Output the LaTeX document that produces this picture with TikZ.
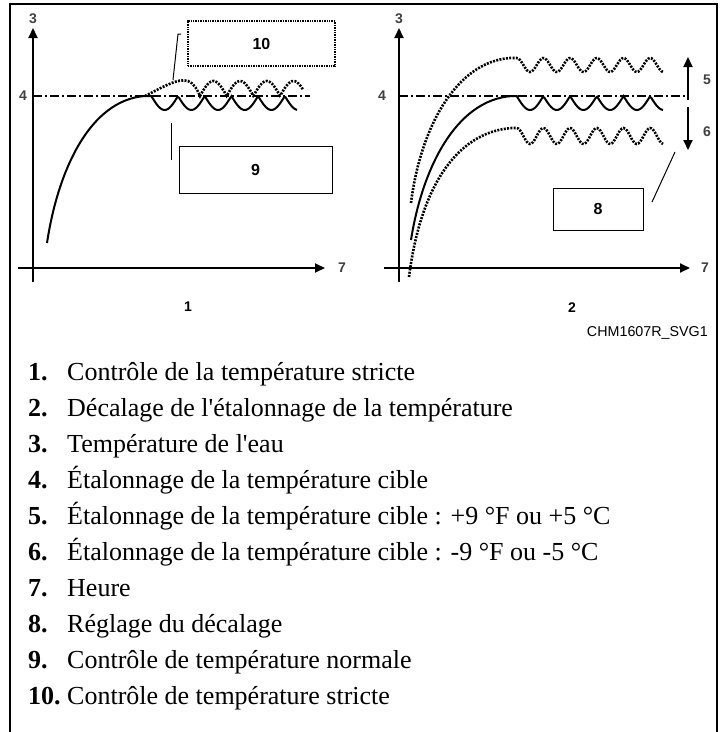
\documentclass[tikz,border=0pt]{standalone}
\usepackage{fontspec}
\setmainfont{Liberation Serif}
\setsansfont{Liberation Sans}
\usetikzlibrary{arrows.meta,positioning}
\tikzset{
  axis/.style={->,>={Triangle[length=10pt,width=9pt]},line width=2pt},
  target/.style={line width=1.2pt,dash pattern=on 9pt off 3pt on 2pt off 3pt},
  normcurve/.style={line width=2pt},
  strictcurve/.style={line width=2.6pt,dash pattern=on 2pt off 1.3pt},
  callbox/.style={draw,line width=1pt,font=\sffamily\bfseries\fontsize{16}{16}\selectfont},
  strictbox/.style={callbox,line width=1.3pt,dash pattern=on 1pt off 0.7pt},
  leader/.style={line width=1pt},
  axlabel/.style={inner sep=0pt,text=black!75,font=\sffamily\bfseries\fontsize{14}{14}\selectfont},
  panlabel/.style={inner sep=0pt,font=\sffamily\bfseries\fontsize{14}{14}\selectfont},
  keyline/.style={anchor=base west,inner sep=0pt,font=\fontsize{26}{26}\selectfont}
}
\newcommand{\keyitem}[2]{\makebox[39pt][l]{\bfseries #1}#2}

\begin{document}
\begin{tikzpicture}[x=1pt,y=-1pt]
  \useasboundingbox (0,0) rectangle (725,732);
  % frame
  \draw[line width=2.5pt] (10,732) -- (10,4) -- (717,4) -- (717,732);

  % left panel: strict control
  \coordinate (yL0) at (33,282);  \coordinate (yL1) at (33,28);
  \coordinate (xL0) at (18,268);  \coordinate (xL1) at (325,268);
  \coordinate (tL0) at (33,96);   \coordinate (tL1) at (310,96);
  \draw[axis] (yL0) -- (yL1);
  \draw[axis] (xL0) -- (xL1);
  \draw[target] (tL0) -- (tL1);
  \node[axlabel,above=4pt of yL1] (waterL) {3};
  \node[axlabel,left=6pt of tL0] (setL) {4};
  \node[axlabel,right=13pt of xL1] (timeL) {7};
  \node[panlabel] (panA) at (188,307) {1};

  \draw[normcurve] (47,243) .. controls (58,170) and (90,100) .. (145,96) -- (151.3,96)
      -- plot[domain=151.3:297,samples=90] (\x,{96+14*abs(sin((\x-151.3)/26.7*180))});
  \draw[strictcurve] (145,96) .. controls (165,86) and (178,78) .. (188,81)
      .. controls (194,83) and (198,91) .. (200,96)
      -- plot[domain=200:303,samples=90] (\x,{96-15*abs(sin((\x-200)/26.7*180))});

  \node[strictbox,minimum width=147pt,minimum height=45pt] (box10) at (261.5,43.5) {10};
  \node[callbox,minimum width=153pt,minimum height=47pt] (box9) at (255.5,169.5) {9};
  \coordinate (tip10) at (173,80);  \coordinate (end10) at (181,34);
  \coordinate (tip9) at (171,123);  \coordinate (end9) at (171,160);
  \draw[leader] (tip10) -- (178,34) -- (end10);
  \draw[leader] (tip9) -- (end9);

  % right panel: offset calibration
  \coordinate (yR0) at (399,282);  \coordinate (yR1) at (399,28);
  \coordinate (xR0) at (384,268);  \coordinate (xR1) at (690,268);
  \coordinate (tR0) at (399,96);   \coordinate (tR1) at (685,96);
  \draw[axis] (yR0) -- (yR1);
  \draw[axis] (xR0) -- (xR1);
  \draw[target] (tR0) -- (tR1);
  \node[axlabel,above=4pt of yR1] (waterR) {3};
  \node[axlabel,left=13pt of tR0] (setR) {4};
  \node[axlabel,right=11pt of xR1] (timeR) {7};
  \node[panlabel] (panB) at (572,308) {2};

  \draw[normcurve] (411,240) .. controls (422,170) and (455,100) .. (512,96) -- (516.7,96)
      -- plot[domain=516.7:663,samples=90] (\x,{96+14*abs(sin((\x-516.7)/26.7*180))});
  \draw[strictcurve] (411,203) .. controls (420,130) and (455,62) .. (510,58) -- (516.7,58)
      -- plot[domain=516.7:663,samples=90] (\x,{65-7*cos((\x-516.7)/26.7*360)});
  \draw[strictcurve] (409,277) .. controls (420,190) and (455,132) .. (512,128) -- (516.7,128)
      -- plot[domain=516.7:663,samples=90] (\x,{136-8*cos((\x-516.7)/26.7*360)});

  \coordinate (upA) at (688,100);   \coordinate (upB) at (688,57);
  \coordinate (dnA) at (688,107);   \coordinate (dnB) at (688,150);
  \draw[axis] (upA) -- (upB);
  \draw[axis] (dnA) -- (dnB);
  \node[axlabel] (plus5) at (707,80) {5};
  \node[axlabel] (minus5) at (707,132) {6};

  \node[callbox,minimum width=90pt,minimum height=42pt] (box8) at (598,209) {8};
  \coordinate (tip8) at (675,152);  \coordinate (end8) at (652,202);
  \draw[leader] (tip8) -- (end8);

  \node[anchor=east,inner sep=0pt,font=\sffamily\fontsize{14.3}{14.3}\selectfont] (ref) at (708,333) {CHM1607R\_SVG1};

  % key
  \node[keyline] (k1) at (28,380) {\keyitem{1.}{Contrôle de la température stricte}};
  \node[keyline] (k2) at (28,416) {\keyitem{2.}{Décalage de l\textquotesingle étalonnage de la température}};
  \node[keyline] (k3) at (28,452) {\keyitem{3.}{Température de l\textquotesingle eau}};
  \node[keyline] (k4) at (28,488) {\keyitem{4.}{Étalonnage de la température cible}};
  \node[keyline] (k5) at (28,524) {\keyitem{5.}{Étalonnage de la température cible : +9 °F ou +5 °C}};
  \node[keyline] (k6) at (28,560) {\keyitem{6.}{Étalonnage de la température cible : -9 °F ou -5 °C}};
  \node[keyline] (k7) at (28,596) {\keyitem{7.}{Heure}};
  \node[keyline] (k8) at (28,632) {\keyitem{8.}{Réglage du décalage}};
  \node[keyline] (k9) at (28,668) {\keyitem{9.}{Contrôle de température normale}};
  \node[keyline] (k10) at (28,704) {\keyitem{10.}{Contrôle de température stricte}};
\end{tikzpicture}
\end{document}
